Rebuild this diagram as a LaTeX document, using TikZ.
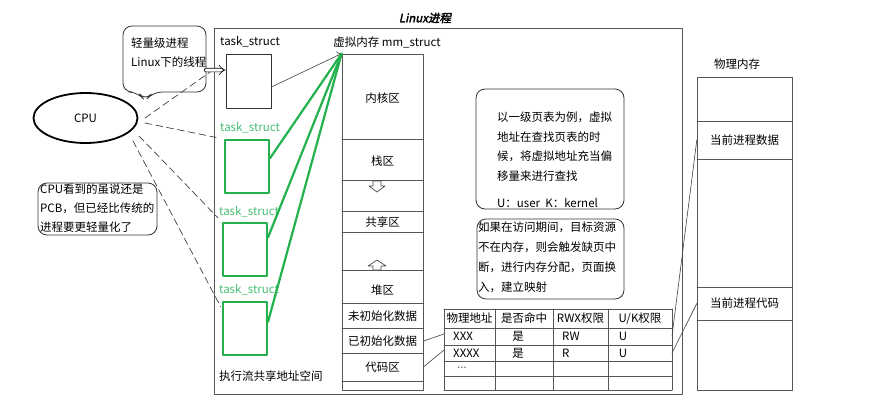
\documentclass[tikz,border=0pt]{standalone}
\usepackage{fontspec}
\setmainfont{Noto Sans CJK SC}
\newfontfamily\titlefont[FakeSlant=0.2,FakeBold=2.5]{Noto Sans CJK SC}
\usetikzlibrary{arrows.meta,calc,shapes.geometric}

\definecolor{tsgreen}{RGB}{34,177,76}
\definecolor{tsgreenlabel}{RGB}{70,190,115}
\definecolor{linegray}{RGB}{85,85,85}

\begin{document}
\begin{tikzpicture}[
  x=1pt,
  y=-1pt,
  line cap=round,
  line join=round,
  every node/.style={
    inner sep=0pt,
    font=\fontsize{11.5}{14}\selectfont
  },
  frame/.style={
    draw=linegray,
    line width=0.8pt
  },
  taskbox/.style={
    draw=black!80,
    line width=0.8pt,
    minimum width=45pt,
    minimum height=54pt
  },
  greenbox/.style={
    draw=tsgreen,
    line width=2pt,
    minimum width=44pt,
    minimum height=53pt
  },
  greenlink/.style={
    draw=tsgreen,
    line width=2.2pt
  },
  cpulink/.style={
    draw=black!75,
    line width=0.7pt,
    dash pattern=on 7pt off 4pt
  },
  maplink/.style={
    draw=black!75,
    line width=0.6pt
  },
  bubble/.style={
    draw=black!80,
    line width=0.8pt,
    rounded corners=9pt
  },
  hollow/.style={
    draw=black!70,
    fill=white,
    line width=0.7pt
  },
  tasklabel/.style={
    anchor=west,
    text=tsgreenlabel
  },
  note/.style={
    anchor=west,
    align=left,
    font=\fontsize{11.5}{19.5}\selectfont
  }
]

  \path[use as bounding box] (0,0) rectangle (894,405);

  % Linux进程 外框
  \draw[frame] (214,28) rectangle (682,394);
  \node (title) at (425,18) {\titlefont Linux进程};

  % CPU
  \node[
    draw,
    ellipse,
    line width=1.8pt,
    minimum width=104pt,
    minimum height=50pt
  ] (cpu) at (85.5,118) {CPU};

  % 轻量级进程 气泡
  \draw[bubble]
    (145,101) -- (138,92)
    -- (123,92) -- (123,26) -- (206,26) -- (206,92)
    -- (153,92) -- cycle;
  \node[
    note,
    font=\fontsize{11.5}{19}\selectfont
  ] (lwptext) at (131,52.5) {轻量级进程\\Linux下的线程};
  \coordinate (lwpout) at (206,70);

  % task_struct
  \node[taskbox] (t1) at (248.5,81) {};
  \node[anchor=west] (t1label) at (220,42) {task\_struct};

  \node[greenbox] (g1) at (247,166.5) {};
  \node[tasklabel] (g1label) at (220,128) {task\_struct};

  \node[greenbox] (g2) at (245,249.5) {};
  \node[tasklabel] (g2label) at (219,212) {task\_struct};

  \node[greenbox] (g3) at (245,328.5) {};
  \node[tasklabel] (g3label) at (219,290) {task\_struct};

  \node[anchor=west] (shared) at (219,376) {执行流共享地址空间};

  % 虚拟内存 mm_struct
  \node[
    frame,
    minimum width=81pt,
    minimum height=336pt
  ] (mm) at (382.5,222) {};
  \node (mmlabel) at (387,42) {虚拟内存 mm\_struct};

  \foreach \yy in {139,180,211,232,270,303,328,353,381}
    \draw[frame] (342,\yy) -- (423,\yy);

  \node (kernel) at (382.5,98) {内核区};
  \node (stack) at (382.5,161) {栈区};
  \node (shm) at (382.5,222) {共享区};
  \node (heap) at (382.5,290) {堆区};
  \node (bss) at (382.5,316) {未初始化数据};
  \node (data) at (382.5,341) {已初始化数据};
  \node (codeseg) at (382.5,367) {代码区};

  % 栈向下 堆向上
  \draw[hollow]
    (373,181) -- (381,181) -- (381,186) -- (385,186)
    -- (377,192) -- (369,186) -- (373,186) -- cycle;
  \draw[hollow]
    (377,260) -- (386,266) -- (381,266) -- (381,270)
    -- (373,270) -- (373,266) -- (368,266) -- cycle;

  % 指向 mm_struct
  \draw[maplink, -{To[length=4pt]}]
    ($(t1.east)+(0,6)$) -- (mm.north west);
  \draw[greenlink]
    ($(g1.north east)!0.35!(g1.south east)$) -- (mm.north west);
  \draw[greenlink]
    ($(g2.north east)!0.28!(g2.south east)$) -- (mm.north west);
  \draw[greenlink]
    ($(g3.north east)!0.38!(g3.south east)$) -- (mm.north west);

  % CPU 虚线
  \coordinate (dashend) at (213,70);
  \draw[cpulink]
    ($(cpu.center)+(59.5,0)$) -- (dashend);
  \draw[cpulink, shorten >=8pt]
    ($(cpu.center)+(59.5,5)$) -- (g1.north west);
  \draw[cpulink, shorten >=6pt]
    ($(cpu.center)+(53.5,18)$) -- (g2.north west);
  \draw[cpulink, shorten >=3pt]
    ($(cpu.center)+(47.5,23)$) -- ($(g3.north west)!0.15!(g3.south west)$);

  % 双线箭头
  \draw[
    double,
    double distance=3pt,
    line width=0.6pt,
    -{Implies}
  ] (lwpout) -- ($(t1.north west)!0.3!(t1.south west)$);

  % CPU看到的...
  \node[
    bubble,
    minimum width=119pt,
    minimum height=52pt
  ] (cpunotebox) at (97.5,209) {};
  \node[
    note,
    font=\fontsize{11.5}{19}\selectfont
  ] (cpunote) at (40,208) {CPU看到的虽说还是\\PCB，但已经比传统的\\进程要更轻量化了};

  % 页表说明
  \node[
    bubble,
    minimum width=148pt,
    minimum height=120pt
  ] (pagebox) at (550,149) {};
  \node[note] (pagenote) at (497,159.5)
    {以一级页表为例，虚拟\\地址在查找页表的时\\候，将虚拟地址充当偏\\移量来进行查找\\[7.5pt]U：user\ \ K：kernel};

  \node[
    bubble,
    minimum width=147pt,
    minimum height=80pt
  ] (faultbox) at (550.5,259) {};
  \node[
    note,
    font=\fontsize{11.5}{20}\selectfont
  ] (faultnote) at (478,257)
    {如果在访问期间，目标资源\\不在内存，则会触发缺页中\\断，进行内存分配，页面换\\入，建立映射};

  % 页表
  \foreach \yy in {309,328,345,361,376,390}
    \draw[frame] (444,\yy) -- (672,\yy);
  \foreach \xx in {444,495,553,608,672}
    \draw[frame] (\xx,309) -- (\xx,390);

  \node (h1) at (469.5,318.5) {物理地址};
  \node (h2) at (524,318.5) {是否命中};
  \node (h3) at (580.5,318.5) {RWX权限};
  \node (h4) at (640,318.5) {U/K权限};

  \node[anchor=west] (a1) at (453,336.5) {XXX};
  \node (b1) at (518,336.5) {是};
  \node[anchor=west] (c1) at (562,336.5) {RW};
  \node (d1) at (623,336.5) {U};

  \node[anchor=west] (a2) at (453,353) {XXXX};
  \node (b2) at (518,353) {是};
  \node[anchor=west] (c2) at (562,353) {R};
  \node (d2) at (623,353) {U};

  \node[anchor=west, text=black!60] (a3) at (457,368) {...};

  % 物理内存
  \draw[frame] (697,77) rectangle (792,390);
  \foreach \yy in {121,159,287,320}
    \draw[frame] (697,\yy) -- (792,\yy);

  \node (physlabel) at (737,64) {物理内存};
  \node[
    minimum width=95pt,
    minimum height=38pt
  ] (pdata) at (744.5,140) {当前进程数据};
  \node[
    minimum width=95pt,
    minimum height=33pt
  ] (pcode) at (744.5,303.5) {当前进程代码};

  % 映射连线
  \coordinate (row1w) at (444,334);
  \coordinate (row2w) at (444,350);
  \coordinate (row1e) at (672,336);
  \coordinate (row2e) at (672,353);

  \draw[maplink] (data.east -| mm.east) -- (row1w);
  \draw[maplink] (codeseg.east -| mm.east) -- (row2w);
  \draw[maplink] (row1e) -- (pdata.west);
  \draw[maplink] (row2e) -- (pcode.west);

\end{tikzpicture}
\end{document}
